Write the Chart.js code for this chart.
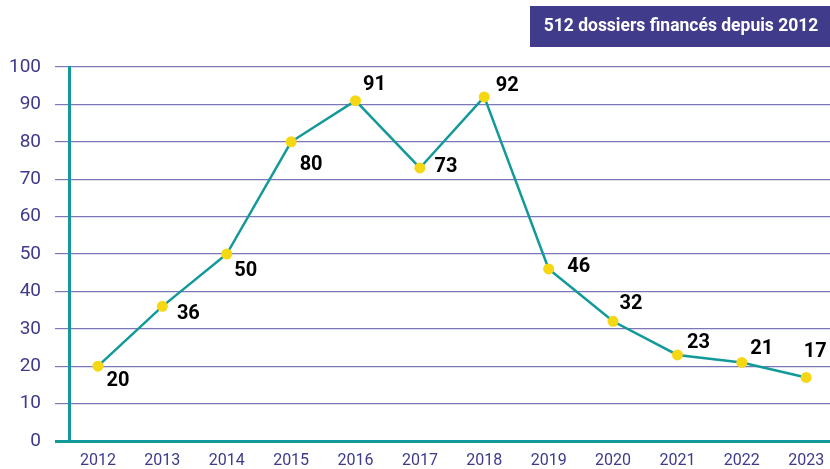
<!DOCTYPE html>
<html lang="fr">
<head>
<meta charset="UTF-8">
<title>Dossiers financés</title>
<script src="https://cdn.jsdelivr.net/npm/chart.js"></script>
<style>
  html, body { margin: 0; padding: 0; background: #fff; }
  #wrap { width: 830px; height: 469px; }
</style>
</head>
<body>
<div id="wrap"><canvas id="chart" width="830" height="469"></canvas></div>
<script>
// Data
const years = [2012, 2013, 2014, 2015, 2016, 2017, 2018, 2019, 2020, 2021, 2022, 2023];
const dossiers = [20, 36, 50, 80, 91, 73, 92, 46, 32, 23, 21, 17];
const yTicks = [0, 10, 20, 30, 40, 50, 60, 70, 80, 90, 100];
const badgeText = "512 dossiers financés depuis 2012";

const purple = "#3e3a8c";
const gridPurple = "#7c77b9";
const teal = "#12999a";
const yellow = "#f5d713";

// where each value label sits relative to its point
const labelOffsets = [
  [20, 15], [26, 8], [19, 17], [20, 23], [19, -16], [26, -1],
  [23, -11], [30, -2], [18, -17], [21, -12], [20, -13], [9, -25]
];

const valueLabels = {
  id: "valueLabels",
  afterDatasetsDraw(chart) {
    const ctx = chart.ctx;
    const meta = chart.getDatasetMeta(0);
    ctx.save();
    ctx.font = "bold 20px Roboto, sans-serif";
    ctx.fillStyle = "#000";
    ctx.textAlign = "center";
    ctx.textBaseline = "middle";
    meta.data.forEach((pt, i) => {
      const off = labelOffsets[i];
      ctx.fillText(String(dossiers[i]), pt.x + off[0], pt.y + off[1]);
    });
    ctx.restore();
  }
};

const badge = {
  id: "badge",
  afterDraw(chart) {
    const ctx = chart.ctx;
    ctx.save();
    ctx.fillStyle = "#403b8b";
    ctx.fillRect(530, 6, 300, 41);
    ctx.fillStyle = "#fff";
    ctx.font = "bold 17.5px Roboto, sans-serif";
    ctx.textAlign = "center";
    ctx.textBaseline = "middle";
    ctx.fillText(badgeText, 681, 27);
    ctx.restore();
  }
};

new Chart(document.getElementById("chart"), {
  type: "line",
  data: {
    datasets: [{
      data: years.map((y, i) => ({ x: y, y: dossiers[i] })),
      borderColor: teal,
      borderWidth: 2.5,
      pointBackgroundColor: yellow,
      pointBorderWidth: 0,
      pointRadius: 5.5,
      tension: 0,
      clip: false
    }]
  },
  options: {
    responsive: false,
    animation: false,
    layout: { autoPadding: false, padding: { top: 67, right: 0, left: 0, bottom: 0 } },
    plugins: { legend: { display: false }, tooltip: { enabled: false } },
    scales: {
      x: {
        type: "linear",
        min: 2011.55,
        max: 2023.37,
        afterBuildTicks: (scale) => { scale.ticks = years.map(v => ({ value: v })); },
        ticks: {
          callback: (v) => String(v),
          color: purple,
          font: { family: "Roboto, sans-serif", size: 16 },
          padding: 10,
          maxRotation: 0,
          autoSkip: false
        },
        grid: { display: false, drawTicks: false },
        border: { display: false },
        afterFit: (scale) => {
          scale.height = 28;
          scale.paddingLeft = 0;
          scale.paddingRight = 0;
        }
      },
      y: {
        min: 0,
        max: 100,
        afterBuildTicks: (scale) => { scale.ticks = yTicks.map(v => ({ value: v })); },
        ticks: {
          color: purple,
          font: { family: "Roboto, sans-serif", size: 19 },
          padding: 14
        },
        grid: {
          color: (c) => c.tick && c.tick.value === 0 ? teal : gridPurple,
          lineWidth: (c) => c.tick && c.tick.value === 0 ? 3 : 1.2,
          tickLength: 14
        },
        border: { color: teal, width: 3 },
        afterFit: (scale) => { scale.width = 69; }
      }
    }
  },
  plugins: [valueLabels, badge]
});
</script>
</body>
</html>
